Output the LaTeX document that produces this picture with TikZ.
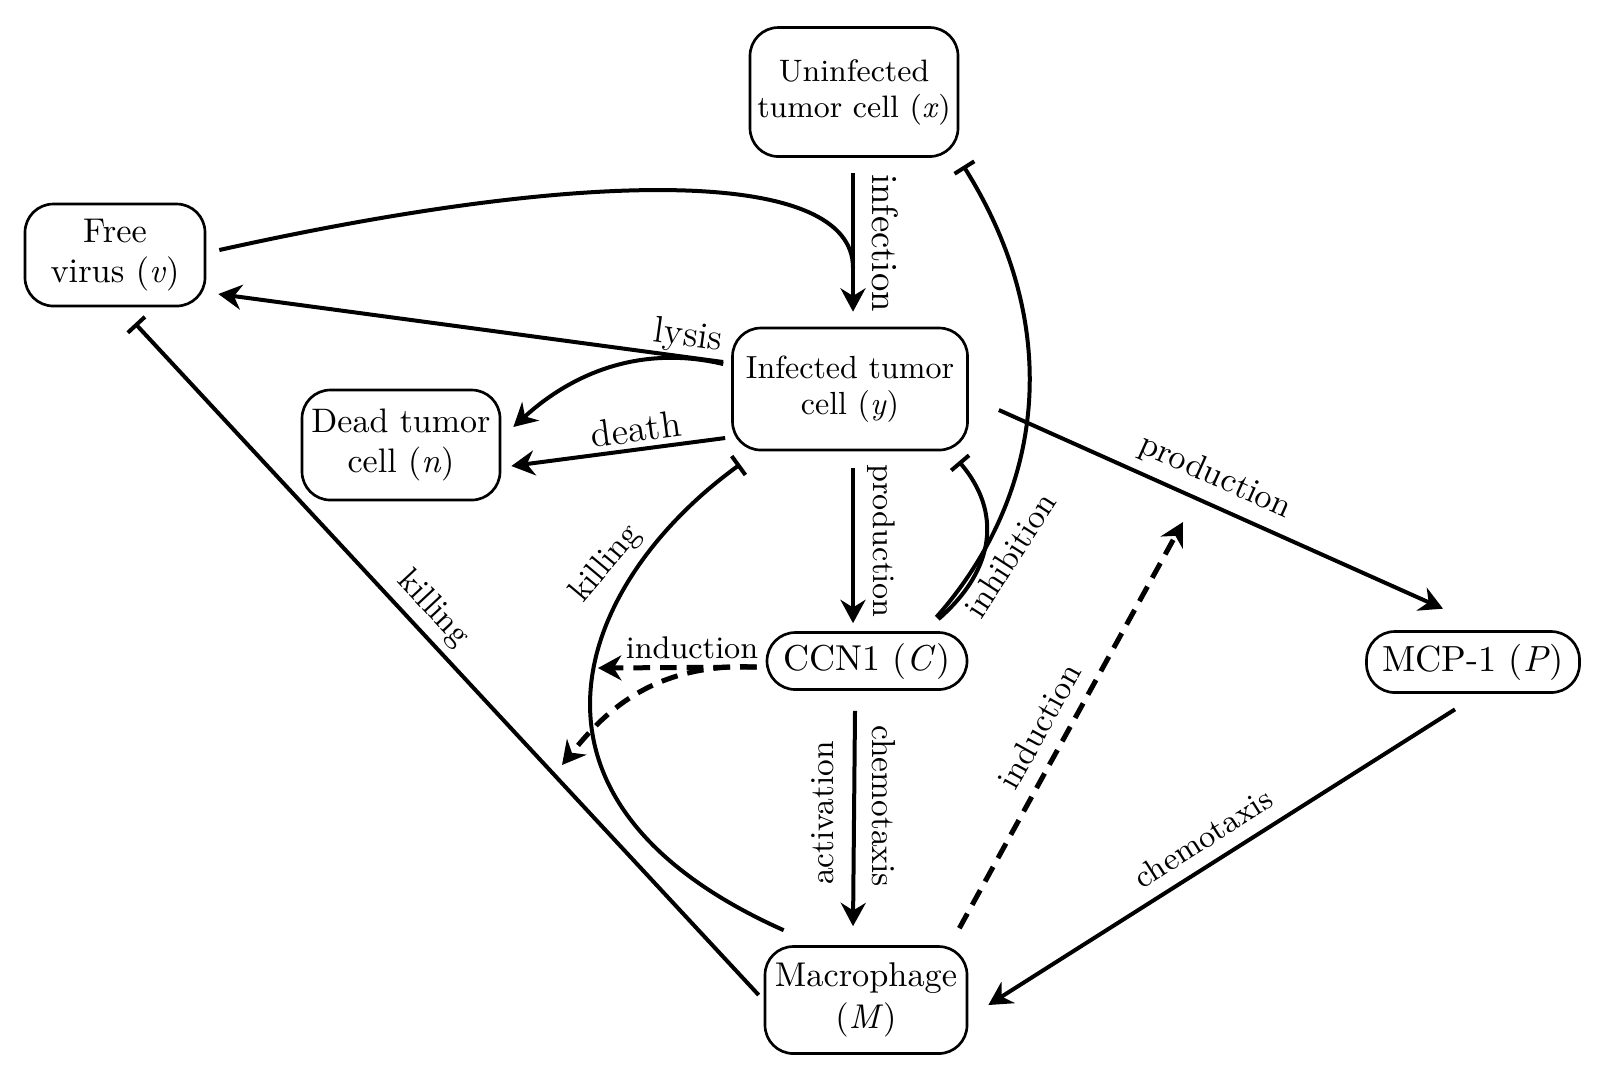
\documentclass[tikz,border=0pt]{standalone}
\usepackage{fontspec}
\setmainfont{Latin Modern Roman}
\usetikzlibrary{arrows.meta,calc}
\newcommand\lblfont[1]{\fontsize{#1}{#1}\selectfont}
\newcommand\vv[1]{\textit{#1}}
\tikzset{
  box/.style={draw, line width=0.8pt, rounded corners=8.5pt, align=center, inner sep=0pt},
  conn/.style={line width=1.2pt},
  arr/.style={conn, -{Stealth[length=7pt,width=7.5pt]}},
  inh/.style={conn, -{Bar[width=7pt]}},
  darr/.style={line width=1.5pt, dash pattern=on 5pt off 3pt, -{Stealth[length=7pt,width=7.5pt]}},
  lbl/.style={inner sep=0pt}
}
\begin{document}
\begin{tikzpicture}[x=0.3pt,y=-0.3pt]
\fill[white] (0,0) rectangle (1598,1078);
\useasboundingbox (0,0) rectangle (1598,1078);

% nodes
\node[box, minimum width=62.4pt, minimum height=38.7pt, font=\fontsize{9.3}{10.8}\selectfont] (U) at (854,92) {Uninfected\\tumor cell (\vv{x})};
\node[box, minimum width=54pt, minimum height=30.6pt, font=\fontsize{10.3}{12}\selectfont] (V) at (115,255) {Free\\virus (\vv{v})};
\node[box, minimum width=70.5pt, minimum height=36.6pt, font=\fontsize{9.6}{10.8}\selectfont] (I) at (850,389) {Infected tumor\\cell (\vv{y})};
\node[box, minimum width=59.4pt, minimum height=33pt, font=\fontsize{10.2}{12}\selectfont] (N) at (401,445) {Dead tumor\\cell (\vv{n})};
\node[box, minimum width=60pt, minimum height=17.1pt, font=\fontsize{10.8}{12}\selectfont] (C) at (867,661) {CCN1 (\vv{C})};
\node[box, minimum width=63.9pt, minimum height=18.3pt, font=\fontsize{10.9}{12}\selectfont] (P) at (1473,662) {MCP-1 (\vv{P})};
\node[box, minimum width=60.6pt, minimum height=32.1pt, font=\fontsize{10.3}{12.6}\selectfont] (M) at (866,1000) {Macrophage\\(\vv{M})};

% free coordinates
\coordinate (mg) at ($(U.south)+(-1,110)$);
\coordinate (indP) at (1183,522);
\coordinate (indA) at (598,668);
\coordinate (indB) at (562,765);

% infection
\draw[arr] ($(U.south)+(-1,15)$) -- ($(I.north)+(3,-15)$);
\draw[conn] ($(V.east)+(13,-5)$) .. controls +(382,-85) and +(0,-98) .. (mg);
% lysis
\draw[arr] ($(I.west)+(-8,-27)$) -- ($(V.east)+(12,39)$);
\draw[arr] ($(I.west)+(-8,-25)$) .. controls +(-85,-20) and +(57,-52) .. ($(N.east)+(12,-18)$);
% death
\draw[arr] ($(I.west)+(-6,49)$) -- ($(N.east)+(10,21)$);
% production to CCN1
\draw[arr] ($(I.south)+(3,17)$) -- ($(C.north)+(-14,-8)$);
% inhibitions
\draw[inh] ($(C.north east)+(-30,-12)$) .. controls +(58,-50.5) and +(42.5,50) .. ($(I.south east)+(-10,10)$);
\draw[inh] ($(C.north east)+(-32,-14)$) .. controls +(105,-118.5) and +(104,165.5) .. ($(U.south east)+(4,8)$);
% production to MCP-1
\draw[arr] ($(I.east)+(30,21)$) -- ($(P.north)+(-30,-21.5)$);
% induction from macrophage
\draw[darr] ($(M.north east)+(-9,-17)$) -- (indP);
% chemotaxis MCP-1 -> M
\draw[arr] ($(P.south)+(-18,15.5)$) -- ($(M.east)+(20,5)$);
% activation / chemotaxis CCN1 -> M
\draw[arr] ($(C.south)+(-12,20)$) -- ($(M.north)+(-13,-19)$);
% killing curve
\draw[inh] ($(M.north west)+(20,-15)$) .. controls +(-295,-131.5) and +(-161.5,117) .. ($(I.south west)+(9,13)$);
% killing straight
\draw[inh] ($(M.west)+(-5,-5)$) -- ($(V.south)+(20,16)$);
% induction from CCN1
\draw[darr] ($(C.west)+(-9,6)$) -- (indA);
\draw[darr] ($(C.west)+(-9,6)$) .. controls +(-108,-5) and +(38,-47) .. (indB);

% labels
\node[lbl, rotate=-90, font=\lblfont{11}] (tInf) at (885,243) {infection};
\node[lbl, rotate=-8, font=\lblfont{11.2}] (tLys) at (688,337) {lysis};
\node[lbl, rotate=7.5, font=\lblfont{11.3}] (tDeath) at (636,429) {death};
\node[lbl, rotate=-90, font=\lblfont{9.4}] (tProdC) at (881,541) {production};
\node[lbl, rotate=57, font=\lblfont{10}] (tInh) at (1010,555) {inhibition};
\node[lbl, rotate=-24.2, font=\lblfont{10.3}] (tProdP) at (1215,477) {production};
\node[lbl, rotate=61, font=\lblfont{10}] (tIndM) at (1039,726) {induction};
\node[lbl, rotate=32.4, font=\lblfont{9.5}] (tChemP) at (1203,838) {chemotaxis};
\node[lbl, rotate=90, font=\lblfont{10}] (tAct) at (823,813) {activation};
\node[lbl, rotate=-90, font=\lblfont{10}] (tChemC) at (884,806) {chemotaxis};
\node[lbl, rotate=50, font=\lblfont{10}] (tKillC) at (606,564) {killing};
\node[lbl, rotate=-47, font=\lblfont{10}] (tKillS) at (433,609) {killing};
\node[lbl, font=\lblfont{9.4}] (tIndC) at (692,648) {induction};
\end{tikzpicture}
\end{document}
